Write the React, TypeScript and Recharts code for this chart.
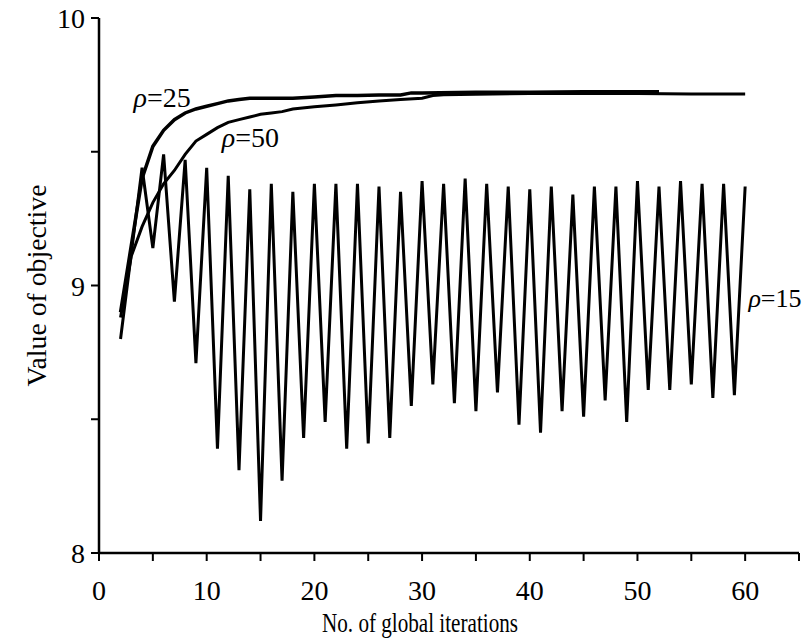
import React from 'react';
import { LineChart, Line, XAxis, YAxis, ReferenceDot } from 'recharts';

// ρ=15 (oscillating)
const rho15Iter = [2,3,4,5,6,7,8,9,10,11,12,13,14,15,16,17,18,19,20,21,22,23,24,25,26,27,28,29,30,31,32,33,34,35,36,37,38,39,40,41,42,43,44,45,46,47,48,49,50,51,52,53,54,55,56,57,58,59,60];
const rho15Vals = [8.80,9.12,9.44,9.14,9.49,8.94,9.47,8.71,9.44,8.39,9.41,8.31,9.36,8.12,9.38,8.27,9.35,8.43,9.38,8.49,9.38,8.39,9.38,8.41,9.37,8.43,9.35,8.55,9.39,8.63,9.38,8.56,9.40,8.53,9.38,8.60,9.37,8.48,9.36,8.45,9.37,8.53,9.34,8.51,9.37,8.57,9.37,8.49,9.39,8.61,9.37,8.61,9.39,8.63,9.38,8.58,9.38,8.59,9.37];

// ρ=25
const rho25Iter = [2,3,4,5,6,7,8,9,10,11,12,13,14,16,18,20,22,24,26,28,29,30,35,40,45,52];
const rho25Vals = [8.90,9.15,9.40,9.52,9.58,9.62,9.645,9.66,9.67,9.68,9.69,9.695,9.70,9.70,9.70,9.705,9.71,9.71,9.712,9.712,9.72,9.72,9.722,9.722,9.724,9.724];

// ρ=50
const rho50Iter = [2,3,4,5,6,7,8,9,10,11,12,13,14,15,16,17,18,20,22,24,26,28,30,31,32,35,40,45,50,55,60];
const rho50Vals = [8.88,9.11,9.22,9.31,9.38,9.43,9.49,9.54,9.565,9.59,9.61,9.62,9.63,9.64,9.645,9.65,9.66,9.668,9.675,9.683,9.69,9.695,9.70,9.71,9.713,9.715,9.718,9.718,9.718,9.716,9.716];

const xTicks = [0,5,10,15,20,25,30,35,40,45,50,55,60,65];
const yTicks = [8,8.5,9,9.5,10];

const seriesLabels = [
  { name: '25', x: 3.2, y: 9.667, size: 28 },
  { name: '50', x: 11.4, y: 9.517, size: 28 },
  { name: '15', x: 60.3, y: 8.918, size: 26 },
];

const xTitle = 'No. of global iterations';
const yTitle = 'Value of objective';

const toPoints = (xs: number[], ys: number[]) => xs.map((x, i) => ({ x, y: ys[i] }));

const FONT = 'Liberation Serif';

const RhoLabel = (props: any) => {
  const { viewBox, text, size } = props;
  if (!viewBox) return null;
  const x = viewBox.x + (viewBox.width || 0) / 2;
  const y = viewBox.y + (viewBox.height || 0) / 2;
  return (
    <text x={x} y={y} style={{ fontFamily: FONT, fontSize: size }} fill="#000" textAnchor="start">
      <tspan style={{ fontStyle: 'italic' }}>ρ</tspan>
      <tspan>={text}</tspan>
    </text>
  );
};

const YLabel = (props: any) => {
  const vb = props.viewBox || { x: 0, y: 18, width: 99, height: 535 };
  const cx = 36;
  const cy = vb.y + vb.height / 2;
  return (
    <text x={cx} y={cy} transform={`rotate(-90 ${cx} ${cy})`} textAnchor="middle" dominantBaseline="central" textLength={202} lengthAdjust="spacingAndGlyphs" style={{ fontFamily: FONT, fontSize: 28 }} fill="#000">
      {yTitle}
    </text>
  );
};

const XLabel = (props: any) => {
  const vb = props.viewBox || { x: 99, y: 553, width: 700, height: 88 };
  const cx = vb.x + vb.width / 2 - 29;
  const cy = vb.y + vb.height - 9;
  return (
    <text x={cx} y={cy} textAnchor="middle" textLength={196} lengthAdjust="spacingAndGlyphs" style={{ fontFamily: FONT, fontSize: 28 }} fill="#000">
      {xTitle}
    </text>
  );
};

const XTick = (props: any) => {
  const { x, y, payload } = props;
  const v = payload.value;
  if (!(v % 10 === 0 && v <= 60)) return null;
  return (
    <text x={x} y={y + 27} textAnchor="middle" style={{ fontFamily: FONT, fontSize: 28 }} fill="#000">
      {String(v)}
    </text>
  );
};

const YTick = (props: any) => {
  const { x, y, payload } = props;
  const v = payload.value;
  if (!Number.isInteger(v)) return null;
  return (
    <text x={x} y={y + 10} textAnchor="end" style={{ fontFamily: FONT, fontSize: 28 }} fill="#000">
      {String(v)}
    </text>
  );
};

export default function App() {
  const d15 = toPoints(rho15Iter, rho15Vals);
  const d25 = toPoints(rho25Iter, rho25Vals);
  const d50 = toPoints(rho50Iter, rho50Vals);
  return (
    <div style={{ margin: '-8px 0 0 -8px', width: 810, height: 641, background: '#fff', fontFamily: FONT }}>
      <LineChart width={810} height={641} margin={{ top: 18, right: 11, bottom: 0, left: 0 }} style={{ fontFamily: FONT }}>
        <XAxis
          type="number"
          dataKey="x"
          domain={[0, 65]}
          ticks={xTicks}
          allowDataOverflow
          tick={<XTick />}
          tickSize={8}
          tickMargin={12}
          height={88}
          axisLine={{ stroke: '#000', strokeWidth: 2.5 }}
          tickLine={{ stroke: '#000', strokeWidth: 2 }}
          label={<XLabel />}
        />
        <YAxis
          type="number"
          dataKey="y"
          domain={[8, 10]}
          ticks={yTicks}
          allowDataOverflow
          tick={<YTick />}
          tickSize={8}
          tickMargin={6}
          width={99}
          axisLine={{ stroke: '#000', strokeWidth: 2.5 }}
          tickLine={{ stroke: '#000', strokeWidth: 2 }}
          label={<YLabel />}
        />
        <Line data={d15} dataKey="y" type="linear" stroke="#000" strokeWidth={3} dot={false} isAnimationActive={false} strokeLinejoin="miter" />
        <Line data={d50} dataKey="y" type="linear" stroke="#000" strokeWidth={3} dot={false} isAnimationActive={false} />
        <Line data={d25} dataKey="y" type="linear" stroke="#000" strokeWidth={3.5} dot={false} isAnimationActive={false} />
        {seriesLabels.map((s) => (
          <ReferenceDot key={s.name} x={s.x} y={s.y} r={0} fill="none" stroke="none" ifOverflow="visible" label={<RhoLabel text={s.name} size={s.size} />} />
        ))}
      </LineChart>
    </div>
  );
}
